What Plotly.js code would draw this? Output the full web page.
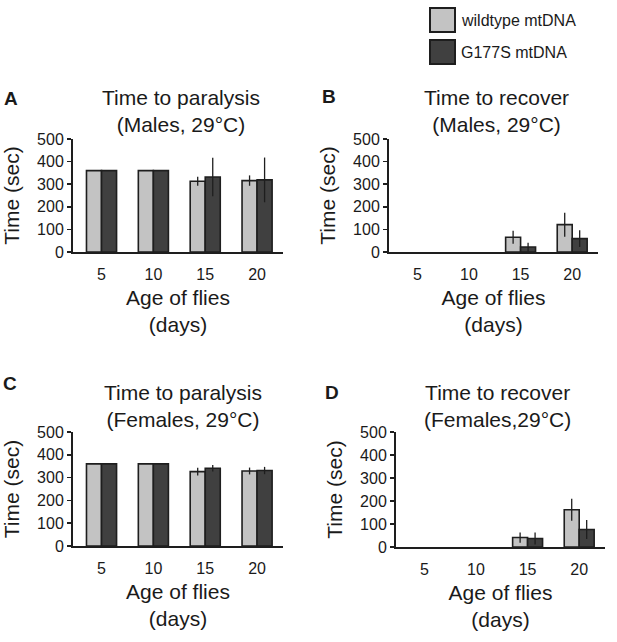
<!DOCTYPE html>
<html>
<head>
<meta charset="utf-8">
<script src="https://cdn.plot.ly/plotly-3.0.1.min.js"></script>
<style>html,body{margin:0;padding:0;background:#fff;}#chart{width:617px;height:642px;}</style>
</head>
<body>
<div id="chart"></div>
<script>
// ---- data ----
var ages = ["5", "10", "15", "20"];
var seriesNames = ["wildtype mtDNA", "G177S mtDNA"];

// A: time to paralysis, males
var A_wt = [360, 360, 313, 316];
var A_wtErr = [0, 0, 20, 23];
var A_g = [360, 360, 332, 319];
var A_gErr = [0, 0, 85, 99];
// B: time to recover, males
var B_wt = [0, 0, 65, 121];
var B_wtErr = [0, 0, 29, 53];
var B_g = [0, 0, 22, 59];
var B_gErr = [0, 0, 19, 37];
// C: time to paralysis, females
var C_wt = [360, 360, 326, 329];
var C_wtErr = [0, 0, 17, 15];
var C_g = [360, 360, 341, 331];
var C_gErr = [0, 0, 14, 16];
// D: time to recover, females
var D_wt = [0, 0, 41, 162];
var D_wtErr = [0, 0, 22, 48];
var D_g = [0, 0, 37, 76];
var D_gErr = [0, 0, 26, 41];

var panelTitles = ["Time to paralysis<br>(Males, 29°C)", "Time to recover<br>(Males, 29°C)",
                   "Time to paralysis<br>(Females, 29°C)", "Time to recover<br>(Females,29°C)"];
var panelLetters = ["A", "B", "C", "D"];
var yTitle = "Time (sec)";
var xTitle = "Age of flies<br>(days)";
var yTicks = [0, 100, 200, 300, 400, 500];

// ---- styling ----
var W = 617, H = 642;
var FONT = "Liberation Sans, Arial, sans-serif";
var LIGHT = "#c3c3c3", DARK = "#404040", EDGE = "#1e1e1e";

function px2x(p) { return p / W; }
function px2y(p) { return 1 - p / H; }

// pixel boxes: [left, right, top, bottom]
var boxes = [[73, 283, 139, 252], [389, 598, 139, 252], [73, 283, 432, 546], [396, 605, 432, 547]];
var titlePos = [[181, 111], [496, 111], [183, 406], [497, 406]];
var letterPos = [[11, 98], [329, 97], [10, 384], [332, 392]];

var panels = [[A_wt, A_wtErr, A_g, A_gErr], [B_wt, B_wtErr, B_g, B_gErr],
              [C_wt, C_wtErr, C_g, C_gErr], [D_wt, D_wtErr, D_g, D_gErr]];

var traces = [];
var layout = {
  width: W, height: H,
  margin: {l: 0, r: 0, t: 0, b: 0},
  paper_bgcolor: "#fff", plot_bgcolor: "#fff",
  font: {family: FONT, color: "#1a1a1a"},
  showlegend: false,
  barmode: "group", bargap: 0.42, bargroupgap: 0,
  annotations: [], shapes: []
};

panels.forEach(function (p, i) {
  var n = i + 1;
  var xa = "x" + (n === 1 ? "" : n), ya = "y" + (n === 1 ? "" : n);
  var vals = [p[0], p[2]], errs = [p[1], p[3]], cols = [LIGHT, DARK];
  for (var s = 0; s < 2; s++) {
    traces.push({
      type: "bar", x: ages, y: vals[s], name: seriesNames[s],
      xaxis: xa, yaxis: ya,
      marker: {color: cols[s], line: {color: EDGE, width: vals[s].map(function (v) { return v > 0 ? 1.6 : 0; })}},
      error_y: {type: "data", array: errs[s], visible: true, color: EDGE, thickness: 1.3, width: 0},
      hoverinfo: "y"
    });
  }
  var b = boxes[i];
  layout["xaxis" + (n === 1 ? "" : n)] = {
    domain: [px2x(b[0]), px2x(b[1])], anchor: ya,
    type: "category", range: [-0.55, 3.5],
    showline: true, linecolor: EDGE, linewidth: 2,
    ticks: "outside", ticklen: 7, tickcolor: "rgba(0,0,0,0)",
    tickfont: {size: 16, family: FONT, color: "#1a1a1a"},
    showgrid: false, zeroline: false,
    title: {text: xTitle, font: {size: 21, family: FONT, color: "#1a1a1a"}, standoff: 8}
  };
  layout["yaxis" + (n === 1 ? "" : n)] = {
    domain: [px2y(b[3]), px2y(b[2])], anchor: xa,
    range: [0, 500], tickvals: yTicks,
    showline: true, linecolor: EDGE, linewidth: 2,
    ticks: "outside", ticklen: 4, tickwidth: 1.5, tickcolor: EDGE,
    tickfont: {size: 16, family: FONT, color: "#1a1a1a"},
    showgrid: false, zeroline: false,
    title: {text: yTitle, font: {size: 21, family: FONT, color: "#1a1a1a"}, standoff: 12}
  };
  layout.annotations.push({
    xref: "paper", yref: "paper", x: px2x(titlePos[i][0]), y: px2y(titlePos[i][1]),
    xanchor: "center", yanchor: "middle", showarrow: false,
    text: panelTitles[i], font: {size: 21, family: FONT, color: "#1a1a1a"}
  });
  layout.annotations.push({
    xref: "paper", yref: "paper", x: px2x(letterPos[i][0]), y: px2y(letterPos[i][1]),
    xanchor: "center", yanchor: "middle", showarrow: false,
    text: "<b>" + panelLetters[i] + "</b>", font: {size: 19, family: FONT, color: "#1a1a1a"}
  });
});

// legend drawn as boxes + labels
var legBoxes = [[430, 455, 8, 32], [430, 455, 40, 64]];
var legCols = [LIGHT, DARK];
legBoxes.forEach(function (lb, k) {
  layout.shapes.push({
    type: "rect", xref: "paper", yref: "paper",
    x0: px2x(lb[0]), x1: px2x(lb[1]), y0: px2y(lb[3]), y1: px2y(lb[2]),
    fillcolor: legCols[k], line: {color: EDGE, width: 2}
  });
  layout.annotations.push({
    xref: "paper", yref: "paper", x: px2x(lb[1] + 4), y: px2y((lb[2] + lb[3]) / 2),
    xanchor: "left", yanchor: "middle", showarrow: false,
    text: seriesNames[k], font: {size: 16, family: FONT, color: "#1a1a1a"}
  });
});

Plotly.newPlot("chart", traces, layout, {displayModeBar: false, staticPlot: true});
</script>
</body>
</html>
